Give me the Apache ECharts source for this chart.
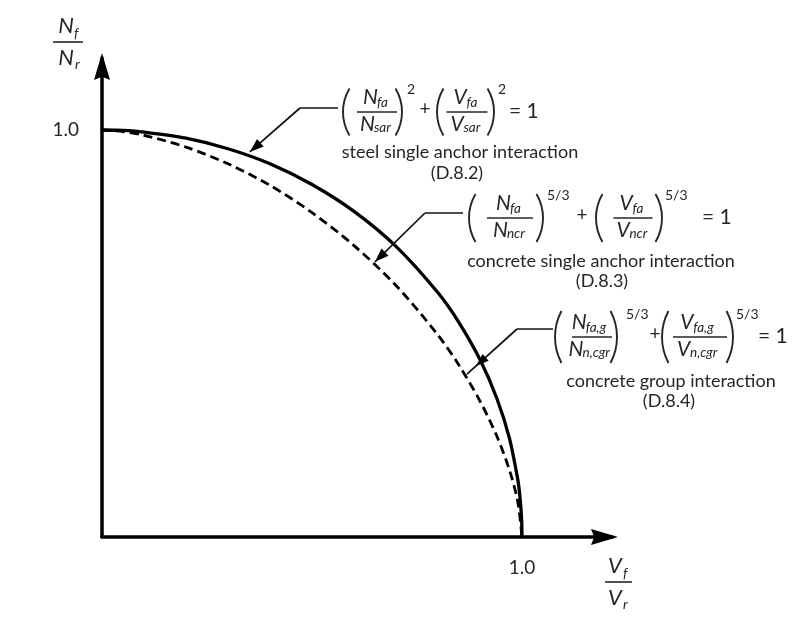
<!DOCTYPE html>
<html><head><meta charset="utf-8">
<script src="https://cdn.jsdelivr.net/npm/echarts@6/dist/echarts.min.js"></script>
<style>html,body{margin:0;padding:0;background:#fff}#c{width:800px;height:621px}</style>
</head><body><div id="c"></div>
<script>
// ---- data ----
const steelX = [0, 0.05, 0.10, 0.20, 0.30, 0.40, 0.50, 0.60, 0.70, 0.80, 0.85, 0.90, 0.94, 0.97, 0.99, 0.995, 0.999, 1.0];
const steelY = [1, 0.999, 0.995, 0.98, 0.954, 0.917, 0.866, 0.80, 0.714, 0.60, 0.527, 0.436, 0.341, 0.243, 0.141, 0.10, 0.045, 0];
const concX = [0, 0.05, 0.10, 0.20, 0.30, 0.40, 0.50, 0.60, 0.70, 0.80, 0.85, 0.90, 0.94, 0.97, 0.99, 1.0];
const concY = [1, 0.996, 0.987, 0.958, 0.917, 0.864, 0.797, 0.716, 0.618, 0.496, 0.422, 0.334, 0.248, 0.165, 0.086, 0];
const tickLabels = ['1.0'];
const tickValues = [1];
const descTexts = ['steel single anchor interaction', 'concrete single anchor interaction', 'concrete group interaction'];
const refTexts = ['(D.8.2)', '(D.8.3)', '(D.8.4)'];
const arrowTips = [[0.352, 0.946], [0.65, 0.676], [0.869, 0.40]];
const xAxisMax = 1.2143;
const yAxisMax = 1.1769;

const FONT = 'Lato';
const TXT = '#262626';
const chart = echarts.init(document.getElementById('c'));

function axisLabelFmt(v) {
  const i = tickValues.indexOf(v);
  return i >= 0 ? tickLabels[i] : '';
}

chart.setOption({
  animation: false,
  backgroundColor: '#fff',
  grid: { left: 102, right: 188, top: 58, bottom: 84, containLabel: false },
  xAxis: {
    type: 'value', min: 0, max: xAxisMax, interval: 1,
    axisLine: { show: true, lineStyle: { color: '#000', width: 3.5 } },
    axisTick: { show: false }, splitLine: { show: false },
    axisLabel: { formatter: axisLabelFmt, fontSize: 19, color: TXT, fontFamily: FONT, margin: 21, showMaxLabel: false, showMinLabel: true }
  },
  yAxis: {
    type: 'value', min: 0, max: yAxisMax, interval: 1,
    axisLine: { show: true, lineStyle: { color: '#000', width: 3.5 } },
    axisTick: { show: false }, splitLine: { show: false },
    axisLabel: { formatter: axisLabelFmt, fontSize: 19, color: TXT, fontFamily: FONT, margin: 23, showMaxLabel: false }
  },
  series: [
    { type: 'line', data: steelX.map((x, i) => [x, steelY[i]]), showSymbol: false, smooth: 0.3,
      lineStyle: { color: '#000', width: 3.3 }, clip: false, z: 3 },
    { type: 'line', data: concX.map((x, i) => [x, concY[i]]), showSymbol: false, smooth: 0.3,
      lineStyle: { color: '#000', width: 2.8, type: [9, 5] }, clip: false, z: 3 }
  ]
});

// ---- annotation graphics ----
const G = [];
function txt(x, y, s, size, opt) {
  opt = opt || {};
  G.push({ type: 'text', x: x, y: y, z: 10, style: Object.assign({
    text: s, fontSize: size, fontFamily: FONT, fill: TXT, align: 'left', verticalAlign: 'middle'
  }, opt) });
}
function ln(x1, y1, x2, y2, w, c) {
  G.push({ type: 'line', z: 10, shape: { x1, y1, x2, y2 }, style: { stroke: c || '#222', lineWidth: w || 1.5 } });
}
function paren(x, cy, h, open) {
  const s = 6.5, hh = h / 2;
  const r = (hh * hh + s * s) / (2 * s);
  const th = Math.asin(hh / r);
  if (open) {
    G.push({ type: 'arc', z: 10, shape: { cx: x + r, cy: cy, r: r, startAngle: Math.PI - th, endAngle: Math.PI + th, clockwise: true },
      style: { stroke: TXT, lineWidth: 1.9, fill: null } });
  } else {
    G.push({ type: 'arc', z: 10, shape: { cx: x - r, cy: cy, r: r, startAngle: -th, endAngle: th, clockwise: true },
      style: { stroke: TXT, lineWidth: 1.9, fill: null } });
  }
}
function sym(cx, cy, main, sub, subDy) {
  const mw = main === 'N' ? 15 : 14;
  const sw = sub.length * 6.4;
  const x0 = cx - (mw + sw) / 2;
  txt(x0, cy, main, 21, { fontStyle: 'italic' });
  txt(x0 + mw - 1, cy + subDy, sub, 13.5, { fontStyle: 'italic' });
}
function frac(cx, ly, w, num, den) {
  ln(cx - w / 2, ly, cx + w / 2, ly, 1.5, TXT);
  sym(cx, ly - 15, num[0], num[1], 6);
  sym(cx, ly + 12, den[0], den[1], 4);
}
function sup(x, ly, s) { txt(x, ly - 23, s, 14); }
function plus(cx, ly) { txt(cx, ly - 3, '+', 19, { align: 'center' }); }
function eq(x, ly) { txt(x, ly - 1, '= 1', 21); }
function arrowHead(tx, ty, px, py, len, hw, notch) {
  const dx = tx - px, dy = ty - py, d = Math.hypot(dx, dy);
  const ux = dx / d, uy = dy / d;
  const bx = tx - ux * len, by = ty - uy * len;
  const pts = [[tx, ty], [bx - uy * hw, by + ux * hw]];
  if (notch) pts.push([tx - ux * len * (1 - notch), ty - uy * len * (1 - notch)]);
  pts.push([bx + uy * hw, by - ux * hw]);
  G.push({ type: 'polygon', z: 11, shape: { points: pts }, style: { fill: '#000' } });
}

// axis arrowheads at the ends of the axis lines
(function () {
  const xe = chart.convertToPixel({ gridIndex: 0 }, [xAxisMax, 0]);
  arrowHead(xe[0] + 6, xe[1], xe[0] - 20, xe[1], 27, 8, 0.12);
  const ye = chart.convertToPixel({ gridIndex: 0 }, [0, yAxisMax]);
  arrowHead(ye[0], ye[1] - 5, ye[0], ye[1] + 20, 27, 8, 0.12);
})();

// axis names
txt(66, 26, 'N', 22, { fontStyle: 'italic', align: 'center' });
txt(74, 33, 'f', 14, { fontStyle: 'italic' });
ln(53, 42, 83, 42, 1.6, TXT);
txt(66, 58, 'N', 22, { fontStyle: 'italic', align: 'center' });
txt(75, 64, 'r', 14, { fontStyle: 'italic' });
txt(615, 566, 'V', 22, { fontStyle: 'italic', align: 'center' });
txt(623, 573, 'f', 14, { fontStyle: 'italic' });
ln(605, 582, 632, 582, 1.6, TXT);
txt(615, 598, 'V', 22, { fontStyle: 'italic', align: 'center' });
txt(623, 604, 'r', 14, { fontStyle: 'italic' });

// formula 1
(function () {
  const ly = 112;
  paren(343, ly, 47, true);
  frac(377, ly, 40, ['N', 'fa'], ['N', 'sar']);
  paren(402, ly, 47, false);
  sup(407, ly, '2');
  plus(425, ly);
  paren(437, ly, 47, true);
  frac(467, ly, 41, ['V', 'fa'], ['V', 'sar']);
  paren(494, ly, 47, false);
  sup(498, ly, '2');
  eq(509, ly);
  txt(460, 152, descTexts[0], 18, { align: 'center' });
  txt(457, 173, refTexts[0], 18, { align: 'center' });
})();
// formula 2
(function () {
  const ly = 218;
  paren(469, ly, 48, true);
  frac(510, ly, 46, ['N', 'fa'], ['N', 'ncr']);
  paren(543, ly, 48, false);
  sup(547, ly, '5/3');
  plus(582, ly);
  paren(596, ly, 48, true);
  frac(633, ly, 39, ['V', 'fa'], ['V', 'ncr']);
  paren(662, ly, 48, false);
  sup(665, ly, '5/3');
  eq(702, ly);
  txt(601, 261, descTexts[1], 18, { align: 'center' });
  txt(602, 281, refTexts[1], 18, { align: 'center' });
})();
// formula 3
(function () {
  const ly = 337;
  paren(555, ly, 52, true);
  frac(592, ly, 40, ['N', 'fa,g'], ['N', 'n,cgr']);
  paren(617, ly, 52, false);
  sup(626, ly, '5/3');
  plus(655, ly);
  paren(662, ly, 52, true);
  frac(700, ly, 54, ['V', 'fa,g'], ['V', 'n,cgr']);
  paren(733, ly, 52, false);
  sup(736, ly, '5/3');
  eq(758, ly);
  txt(671, 381, descTexts[2], 18, { align: 'center' });
  txt(669, 401, refTexts[2], 18, { align: 'center' });
})();

// leaders with arrows (tips in data coordinates)
const leaderStarts = [[338, 108, 300, 108], [463, 213, 425, 213], [553, 329, 517, 329]];
arrowTips.forEach(function (t, i) {
  const p = chart.convertToPixel({ gridIndex: 0 }, t);
  const s = leaderStarts[i];
  ln(s[0], s[1], s[2], s[3], 1.7, '#111');
  ln(s[2], s[3], p[0], p[1], 1.7, '#111');
  if (i === 2) {
    const f = 0.18;
    arrowHead(p[0] + (s[2] - p[0]) * f, p[1] + (s[3] - p[1]) * f, s[2], s[3], 13, 4.5);
  } else {
    arrowHead(p[0], p[1], s[2], s[3], 14, 5);
  }
});

chart.setOption({ graphic: { elements: G } });
</script>
</body></html>
